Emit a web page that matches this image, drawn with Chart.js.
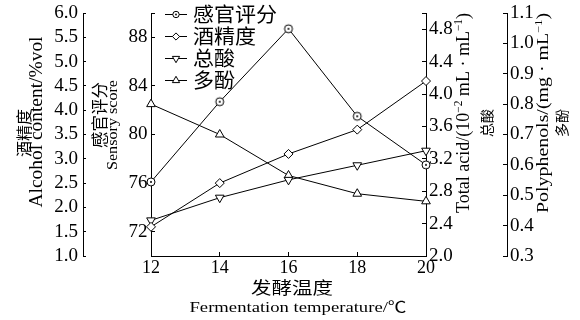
<!DOCTYPE html>
<html>
<head>
<meta charset="utf-8">
<script src="https://cdn.jsdelivr.net/npm/chart.js@4"></script>
<style>
  html, body { margin: 0; padding: 0; background: #fff; }
  #wrap { width: 580px; height: 320px; }
</style>
</head>
<body>
<div id="wrap"><canvas id="c" width="580" height="320"></canvas></div>
<script>
// Fermentation temperature (°C) and the four measured responses
const temperatures   = [12, 14, 16, 18, 20];
const sensoryScore   = [76.1, 82.7, 88.7, 81.5, 77.5];
const alcoholContent = [1.6, 2.5, 3.1, 3.6, 4.6];
const totalAcid      = [2.44, 2.72, 2.94, 3.12, 3.30];
const polyphenols    = [0.80, 0.70, 0.565, 0.505, 0.48];

const seriesNames = ['感官评分', '酒精度', '总酸', '多酚'];

// Tick labels for each axis
const xTicks       = [12, 14, 16, 18, 20];
const alcoholTicks = [1.0, 1.5, 2.0, 2.5, 3.0, 3.5, 4.0, 4.5, 5.0, 5.5, 6.0];
const sensoryTicks = [72, 76, 80, 84, 88];
const acidTicks    = [2.0, 2.4, 2.8, 3.2, 3.6, 4.0, 4.4, 4.8];
const polyTicks    = [0.3, 0.4, 0.5, 0.6, 0.7, 0.8, 0.9, 1.0, 1.1];

const SERIF = "'Liberation Serif', 'Times New Roman', serif";
const SERIF_CJK = "'Liberation Serif', 'Noto Sans CJK SC', serif";
const CJK = "'Noto Sans CJK SC', sans-serif";

// open circle with a centre dot
function dotCircle(r) {
  const s = Math.ceil(2 * r + 4);
  const c = document.createElement('canvas');
  c.width = c.height = s;
  const g = c.getContext('2d');
  g.fillStyle = '#fff'; g.strokeStyle = '#000'; g.lineWidth = 1;
  g.beginPath(); g.arc(s / 2, s / 2, r, 0, Math.PI * 2); g.fill(); g.stroke();
  g.fillStyle = '#000';
  g.beginPath(); g.arc(s / 2, s / 2, 1, 0, Math.PI * 2); g.fill();
  return c;
}

const pointsOf = vals => temperatures.map((t, i) => ({ x: t, y: vals[i] }));

const lineStyle = {
  borderColor: '#000', borderWidth: 1, backgroundColor: '#fff',
  pointBackgroundColor: '#fff', pointBorderColor: '#000', pointBorderWidth: 1,
  fill: false, tension: 0, clip: false
};

function yAxis(position, weight, min, max, labels, extra, digits, width, padding, tickLength) {
  return {
    type: 'linear', position, weight, min, max,
    afterBuildTicks: s => { s.ticks = labels.concat(extra).map(v => ({ value: v })); },
    afterFit: s => {
      s.width = width;
      s.paddingTop = s.paddingBottom = s.paddingLeft = s.paddingRight = 0;
    },
    grid: { drawOnChartArea: false, drawTicks: true, tickLength, tickColor: '#000', tickWidth: 1 },
    border: { display: true, color: '#000', width: 1 },
    ticks: {
      color: '#000', autoSkip: false, padding,
      font: { family: SERIF, size: 19 },
      callback: v => labels.includes(v) ? v.toFixed(digits) : ''
    }
  };
}

// text runs drawn upright or turned to read bottom-to-top; an optional length stretches them
function drawRuns(ctx, parts, x, y, length, turned) {
  ctx.save();
  let w = 0;
  for (const p of parts) { ctx.font = p.font; p.w = ctx.measureText(p.text).width; w += p.w; }
  ctx.translate(x, y);
  if (turned) ctx.rotate(-Math.PI / 2);
  if (length) ctx.scale(length / w, 1);
  ctx.textAlign = 'left';
  ctx.textBaseline = 'alphabetic';
  let cx = -w / 2;
  for (const p of parts) {
    ctx.font = p.font;
    ctx.fillText(p.text, cx, -(p.rise || 0));
    cx += p.w;
  }
  ctx.restore();
}

// CJK caption turned to read bottom-to-top, centred on (x, y)
function sideCaption(ctx, text, x, y, size) {
  ctx.save();
  ctx.translate(x, y);
  ctx.rotate(-Math.PI / 2);
  ctx.font = `${size}px ${CJK}`;
  ctx.textAlign = 'center';
  ctx.textBaseline = 'middle';
  ctx.fillText(text, 0, 0);
  ctx.restore();
}

function marker(ctx, style, x, y, r, rot) {
  ctx.save();
  ctx.translate(x, y);
  ctx.rotate(rot * Math.PI / 180);
  ctx.beginPath();
  if (style === 'dot') {
    ctx.arc(0, 0, r, 0, Math.PI * 2);
  } else if (style === 'diamond') {
    ctx.moveTo(0, -r); ctx.lineTo(r, 0); ctx.lineTo(0, r); ctx.lineTo(-r, 0); ctx.closePath();
  } else {
    for (let k = 0; k < 3; k++) {
      const a = k * 2 * Math.PI / 3;
      ctx[k ? 'lineTo' : 'moveTo'](Math.sin(a) * r, -Math.cos(a) * r);
    }
    ctx.closePath();
  }
  ctx.fillStyle = '#fff'; ctx.fill();
  ctx.strokeStyle = '#000'; ctx.lineWidth = 1; ctx.stroke();
  if (style === 'dot') {
    ctx.fillStyle = '#000';
    ctx.beginPath(); ctx.arc(0, 0, 0.9, 0, Math.PI * 2); ctx.fill();
  }
  ctx.restore();
}

const legendMarks = [['dot', 3.2, 0], ['diamond', 3.6, 0], ['tri', 4.2, 180], ['tri', 4.2, 0]];

const annotations = {
  id: 'annotations',
  afterDraw(chart) {
    const ctx = chart.ctx;
    ctx.save();
    ctx.fillStyle = '#000';

    // axis titles
    sideCaption(ctx, '酒精度', 23.5, 133, 16);
    drawRuns(ctx, [{ text: 'Alcohol content/%vol', font: `18px ${SERIF}` }], 42, 122, 171, true);
    sideCaption(ctx, '感官评分', 99.5, 115, 16.5);
    drawRuns(ctx, [{ text: 'Sensory score', font: `14px ${SERIF}` }], 117, 125, 90, true);
    drawRuns(ctx, [
      { text: 'Total acid/(10', font: `19px ${SERIF}` },
      { text: '−2', font: `12px ${SERIF}`, rise: 7 },
      { text: ' mL · mL', font: `19px ${SERIF}` },
      { text: '−1', font: `12px ${SERIF}`, rise: 7 },
      { text: ')', font: `19px ${SERIF}` }
    ], 469, 113, 200, true);
    sideCaption(ctx, '总酸', 486.5, 123, 14);
    drawRuns(ctx, [
      { text: 'Polyphenols/(mg · mL', font: `16px ${SERIF}` },
      { text: '−1', font: `10px ${SERIF}`, rise: 6 },
      { text: ')', font: `16px ${SERIF}` }
    ], 547.5, 113, 200, true);
    sideCaption(ctx, '多酚', 561.5, 123, 14);
    drawRuns(ctx, [{ text: '发酵温度', font: `17px ${CJK}` }], 292, 294, 82, false);
    drawRuns(ctx, [{ text: 'Fermentation temperature/℃', font: `15px ${SERIF_CJK}` }], 298, 312, 217, false);

    // legend
    chart.data.datasets.forEach((ds, i) => {
      const y = 14 + i * 22;
      ctx.strokeStyle = '#000'; ctx.lineWidth = 1;
      ctx.beginPath(); ctx.moveTo(165, y + 0.5); ctx.lineTo(187, y + 0.5); ctx.stroke();
      const [st, r, rot] = legendMarks[i];
      marker(ctx, st, 176, y + 0.5, r, rot);
      ctx.fillStyle = '#000';
      ctx.save();
      ctx.font = `20px ${CJK}`;
      ctx.textBaseline = 'middle';
      const w = ctx.measureText(ds.label).width;
      ctx.translate(193, y);
      ctx.scale((ds.label.length * 21) / w, 1);
      ctx.fillText(ds.label, 0, 0);
      ctx.restore();
    });
    ctx.restore();
  }
};

new Chart(document.getElementById('c'), {
  type: 'line',
  data: {
    datasets: [
      Object.assign({ label: seriesNames[0], data: pointsOf(sensoryScore), yAxisID: 'ySen',
        pointStyle: dotCircle(4), pointRadius: 4 }, lineStyle),
      Object.assign({ label: seriesNames[1], data: pointsOf(alcoholContent), yAxisID: 'yAlc',
        pointStyle: 'rectRot', pointRadius: 4.5 }, lineStyle),
      Object.assign({ label: seriesNames[2], data: pointsOf(totalAcid), yAxisID: 'yAcid',
        pointStyle: 'triangle', pointRotation: 180, pointRadius: 5 }, lineStyle),
      Object.assign({ label: seriesNames[3], data: pointsOf(polyphenols), yAxisID: 'yPoly',
        pointStyle: 'triangle', pointRadius: 5 }, lineStyle)
    ]
  },
  options: {
    responsive: false,
    animation: false,
    events: [],
    devicePixelRatio: 1,
    layout: { padding: { top: 13, left: 0, right: 0, bottom: 0 } },
    plugins: { legend: { display: false }, tooltip: { enabled: false } },
    scales: {
      x: {
        type: 'linear', position: 'bottom', min: 12, max: 20,
        afterBuildTicks: s => { s.ticks = xTicks.map(v => ({ value: v })); },
        afterFit: s => { s.height = 64; s.paddingLeft = s.paddingRight = 0; },
        grid: { drawOnChartArea: false, drawTicks: true, tickLength: -4, tickColor: '#000', tickWidth: 1 },
        border: { display: true, color: '#000', width: 1 },
        ticks: { color: '#000', autoSkip: false, maxRotation: 0, padding: 5,
          font: { family: SERIF, size: 18 }, callback: v => String(v) }
      },
      yAlc:  yAxis('left', 2, 1.0, 6.0, alcoholTicks, [], 1, 83, 8, -3),
      ySen:  yAxis('left', 1, 70, 90, sensoryTicks, [90], 0, 68, 7.5, -4),
      yAcid: yAxis('right', 1, 2.0, 5.0, acidTicks, [5.0], 1, 81, 7, -4),
      yPoly: yAxis('right', 2, 0.3, 1.1, polyTicks, [], 1, 73, 7, -4)
    }
  },
  plugins: [annotations]
});
</script>
</body>
</html>
